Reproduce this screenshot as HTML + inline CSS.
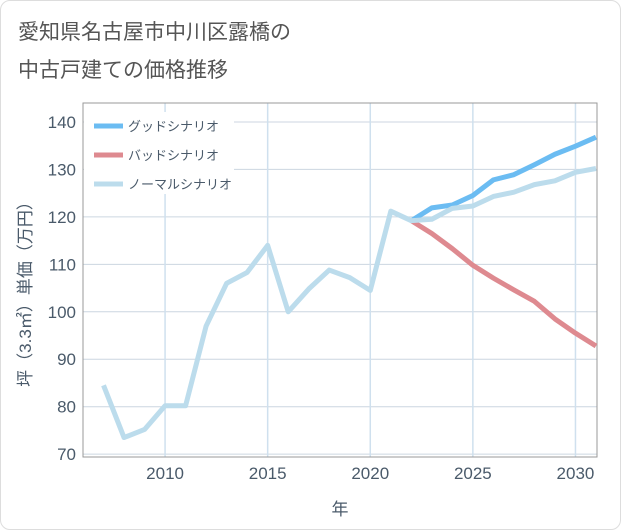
<!DOCTYPE html>
<html><head><meta charset="utf-8"><style>
body{margin:0;background:#fff;font-family:"Liberation Sans","Noto Sans CJK JP",sans-serif}
#wrap{position:relative;width:619px;height:528px;border:1px solid #ddd;border-radius:10px;overflow:hidden}
</style></head><body>
<div id="wrap">
<svg id="c" width="621" height="530" style="position:absolute;left:-1px;top:-1px"></svg>
</div>
<script>
const years=[2007,2008,2009,2010,2011,2012,2013,2014,2015,2016,2017,2018,2019,2020,2021,2022,2023,2024,2025,2026,2027,2028,2029,2030,2031];
const normal=[84.5,73.5,75.2,80.2,80.2,97,106,108.3,114,100,104.8,108.8,107.2,104.5,121.2,119.2,119.5,121.8,122.3,124.3,125.2,126.8,127.6,129.4,130.2];
const futureYears=[2022,2023,2024,2025,2026,2027,2028,2029,2030,2031];
const good=[119.2,121.9,122.5,124.5,127.8,128.9,131,133.2,134.9,136.8];
const bad=[119.2,116.5,113.3,109.8,107.1,104.6,102.2,98.5,95.5,92.8];
const xTicks=[2010,2015,2020,2025,2030];
const yTicks=[70,80,90,100,110,120,130,140];
const L=83,R=597,T=103,B=457,X0=2006,X1=2031.05,Y0=69.4,Y1=144;
const sx=v=>L+(v-X0)/(X1-X0)*(R-L), sy=v=>B-(v-Y0)/(Y1-Y0)*(B-T);
const svg=document.getElementById('c');const NS='http://www.w3.org/2000/svg';
function mk(t,a,p){const e=document.createElementNS(NS,t);for(const k in a)e.setAttribute(k,a[k]);(p||svg).appendChild(e);return e;}
function txt(s,x,y,a){const e=mk('text',Object.assign({x:x,y:y,fill:'#4a5a6a','font-size':17},a));e.textContent=s;return e;}
let t=txt('愛知県名古屋市中川区露橋の',18,39,{fill:'#555','font-size':21});


t=txt('中古戸建ての価格推移',18,77,{fill:'#555','font-size':21});


yTicks.forEach(v=>{const l=mk('line',{x1:L,x2:R,y1:sy(v),y2:sy(v),stroke:'#ccd6e0','stroke-width':1});


const s=txt(String(v),76,sy(v)+6,{'text-anchor':'end'});

});
xTicks.forEach(v=>{const l=mk('line',{x1:sx(v),x2:sx(v),y1:T,y2:B,stroke:'#cfe0ee','stroke-width':1.5});


const s=txt(String(v),sx(v),479,{'text-anchor':'middle'});

});
const f=mk('rect',{x:L,y:T,width:R-L,height:B-T,fill:'none',stroke:'#999','stroke-width':1});


const lb=mk('rect',{x:84,y:112,width:150,height:82,fill:'#fff'});


function line(xs,ys,c,n){const p=mk('polyline',{points:xs.map((x,i)=>sx(x)+','+sy(ys[i])).join(' '),fill:'none',stroke:c,'stroke-width':5,'stroke-linejoin':'round'});

}
line(futureYears,good,'#6bbcf2','good-scenario-line');
line(futureYears,bad,'#de8a90','bad-scenario-line');
line(years,normal,'#bcdcec','normal-scenario-line');
const leg=[['グッドシナリオ','#6bbcf2'],['バッドシナリオ','#de8a90'],['ノーマルシナリオ','#bcdcec']];
leg.forEach((d,i)=>{const y=126+i*29;const g=mk('g',{});


mk('line',{x1:94,x2:123,y1:y,y2:y,stroke:d[1],'stroke-width':5},g);
const s=mk('text',{x:128,y:y+5,fill:'#4a5a6a','font-size':13},g);s.textContent=d[0];});
t=txt('年',340,515,{'text-anchor':'middle'});


t=txt('坪（3.3㎡）単価（万円）',0,0,{'text-anchor':'middle',transform:'translate(31,290) rotate(-90)'});


</script>
</body></html>
